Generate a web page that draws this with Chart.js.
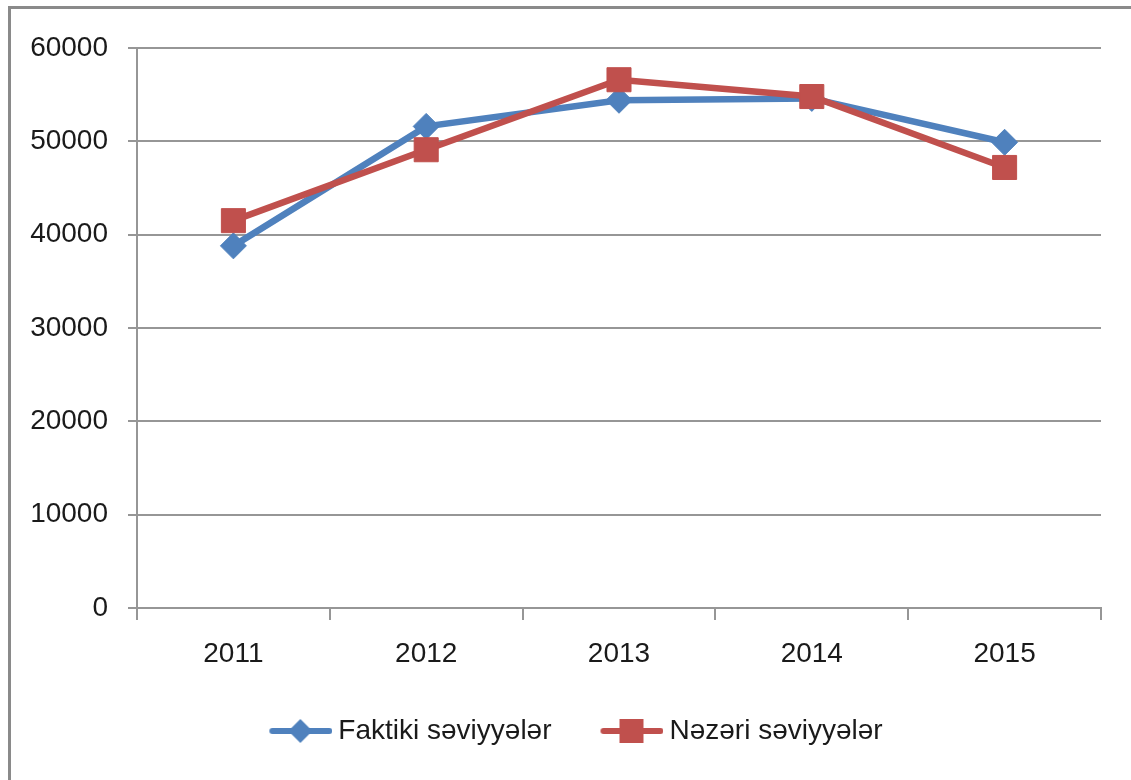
<!DOCTYPE html>
<html>
<head>
<meta charset="utf-8">
<script src="https://cdn.jsdelivr.net/npm/chart.js@4.4.1/dist/chart.umd.min.js"></script>
<style>
  html, body { margin: 0; padding: 0; background: #ffffff; }
  #frame { position: absolute; left: 8px; top: 6px; width: 1200px; height: 900px;
           border-left: 3px solid #8a8a8a; border-top: 3px solid #8a8a8a; box-sizing: border-box; }
  #wrap { position: absolute; left: 0; top: 0; width: 1131px; height: 780px; }
</style>
</head>
<body>
<div id="frame"></div>
<div id="wrap"><canvas id="c"></canvas></div>
<script>
const categories = ['2011', '2012', '2013', '2014', '2015'];
const faktiki = [38800, 51600, 54400, 54600, 49900];
const nezeri = [41500, 49100, 56600, 54800, 47200];
const yTicks = [0, 10000, 20000, 30000, 40000, 50000, 60000];
const seriesNames = ['Faktiki səviyyələr', 'Nəzəri səviyyələr'];

const BLUE = '#4F81BD';
const RED = '#C0504D';
const FONT = "'Liberation Sans', Arial, sans-serif";

function legendIcon(color, style) {
  const cv = document.createElement('canvas');
  cv.width = 80; cv.height = 32;
  const g = cv.getContext('2d');
  g.strokeStyle = color; g.lineWidth = 6; g.lineCap = 'round';
  g.beginPath(); g.moveTo(20, 16); g.lineTo(77, 16); g.stroke();
  g.fillStyle = color;
  if (style === 'rectRot') {
    g.beginPath(); g.moveTo(48, 4); g.lineTo(60, 16); g.lineTo(48, 28); g.lineTo(36, 16); g.closePath(); g.fill();
  } else {
    g.fillRect(36, 4, 24, 24);
  }
  return cv;
}

const shiftLegend = {
  id: 'shiftLegend',
  afterLayout(chart) {
    if (chart.legend) { chart.legend.left += 16; chart.legend.right += 16; }
  }
};

new Chart(document.getElementById('c'), {
  type: 'line',
  data: {
    labels: categories,
    datasets: [
      { label: seriesNames[0], data: faktiki, borderColor: BLUE, backgroundColor: BLUE,
        borderWidth: 6.5, pointStyle: 'rectRot', pointRadius: 13, pointBorderWidth: 1,
        pointBackgroundColor: BLUE, pointBorderColor: BLUE, tension: 0, order: 1 },
      { label: seriesNames[1], data: nezeri, borderColor: RED, backgroundColor: RED,
        borderWidth: 6.5, pointStyle: 'rect', pointRadius: 17, pointBorderWidth: 1,
        pointBackgroundColor: RED, pointBorderColor: RED, tension: 0, order: 0 }
    ]
  },
  plugins: [shiftLegend],
  options: {
    responsive: true,
    maintainAspectRatio: false,
    animation: false,
    layout: { padding: { left: 10, right: 30, top: 48, bottom: 25 } },
    scales: {
      x: {
        offset: true,
        afterFit: (s) => { s.height = 69; },
        grid: { offset: true, drawOnChartArea: false, drawTicks: true, tickLength: 12, color: '#969696', lineWidth: 2 },
        border: { color: '#969696', width: 2 },
        ticks: { color: '#1a1a1a', font: { family: FONT, size: 28, lineHeight: 0.15 }, padding: 32 }
      },
      y: {
        min: 0, max: 60000,
        afterBuildTicks: (s) => { s.ticks = yTicks.map(v => ({ value: v })); },
        afterFit: (s) => { s.width = 127; },
        grid: { color: '#969696', lineWidth: 2, tickLength: 9 },
        border: { color: '#969696', width: 2 },
        ticks: { color: '#1a1a1a', font: { family: FONT, size: 28 }, padding: 20,
                 callback: (v) => String(v) }
      }
    },
    plugins: {
      tooltip: { enabled: false },
      legend: {
        position: 'bottom',
        labels: {
          font: { family: FONT, size: 28 },
          color: '#1a1a1a',
          usePointStyle: true,
          pointStyleWidth: 64,
          padding: 40,
          generateLabels: (chart) => chart.data.datasets.map((ds, i) => ({
            text: ds.label,
            fillStyle: ds.borderColor,
            strokeStyle: ds.borderColor,
            lineWidth: 0,
            pointStyle: legendIcon(ds.borderColor, ds.pointStyle),
            hidden: false,
            datasetIndex: i,
            fontColor: '#1a1a1a'
          }))
        }
      }
    }
  }
});
</script>
</body>
</html>
